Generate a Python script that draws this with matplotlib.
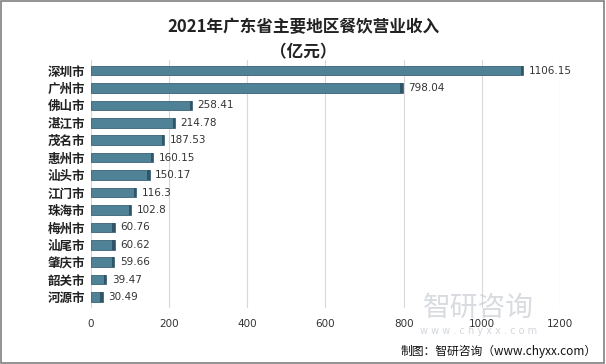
import numpy as np
import matplotlib.pyplot as plt
from matplotlib.patches import Rectangle

plt.rcParams['font.family'] = ['Noto Sans CJK SC', 'DejaVu Sans']

# data (亿元)
cities = ['深圳市', '广州市', '佛山市', '湛江市', '茂名市', '惠州市', '汕头市',
          '江门市', '珠海市', '梅州市', '汕尾市', '肇庆市', '韶关市', '河源市']
revenue = [1106.15, 798.04, 258.41, 214.78, 187.53, 160.15, 150.17,
           116.3, 102.8, 60.76, 60.62, 59.66, 39.47, 30.49]
value_labels = ['1106.15', '798.04', '258.41', '214.78', '187.53', '160.15', '150.17',
                '116.3', '102.8', '60.76', '60.62', '59.66', '39.47', '30.49']
xticks = [0, 200, 400, 600, 800, 1000, 1200]

fig = plt.figure(figsize=(6.06, 3.64), dpi=100)
ax = fig.add_axes([0.150, 0.155, 0.774, 0.68])

y = np.arange(len(cities))
ax.barh(y, revenue, height=0.55, color='#4f8197', edgecolor='#3a6275', linewidth=0.6, zorder=3)
# darker end caps for a bit of 3D feel
ax.barh(y, [6] * len(cities), left=np.array(revenue) - 6, height=0.55,
        color='#2f5566', linewidth=0, zorder=4)

for yi, v, lab in zip(y, revenue, value_labels):
    ax.text(v + 14, yi, lab, va='center', ha='left', fontsize=7.5, color='#333333',
            family=['DejaVu Sans'])

ax.set_yticks(y)
ax.set_yticklabels(cities, fontsize=9, fontweight='bold', color='#222222')
ax.set_ylim(len(cities) - 0.4, -0.6)
ax.set_xlim(0, 1200)
ax.set_xticks(xticks)
ax.set_xticklabels([str(t) for t in xticks], fontsize=7.5, color='#333333',
                   family=['DejaVu Sans'])
ax.tick_params(axis='both', length=0)
ax.tick_params(axis='x', pad=8)
ax.tick_params(axis='y', pad=4)
ax.xaxis.grid(True, color='#d8d8d8', linewidth=0.8, zorder=0)
for s in ax.spines.values():
    s.set_visible(False)

fig.text(0.5, 0.925, '2021年广东省主要地区餐饮营业收入', ha='center', va='center',
         fontsize=12, fontweight='bold', color='#222222')
fig.text(0.5, 0.855, '（亿元）', ha='center', va='center',
         fontsize=12, fontweight='bold', color='#222222')

# watermark + source
fig.text(0.79, 0.155, '智研咨询', ha='center', va='center', fontsize=20,
         color='#c8ccd2', alpha=0.7, zorder=0)
fig.text(0.79, 0.09, 'w w w . c h y x x . c o m', ha='center', va='center', fontsize=7,
         color='#c8ccd2', alpha=0.8, family=['DejaVu Sans'])
fig.text(0.985, 0.035, '制图：智研咨询（www.chyxx.com）', ha='right', va='center',
         fontsize=8.5, color='#111111')

fig.patches.append(Rectangle((0.002, 0.003), 0.995, 0.994, transform=fig.transFigure,
                             fill=False, edgecolor='#808080', linewidth=1.2))

fig.savefig('out.png', dpi=100)
